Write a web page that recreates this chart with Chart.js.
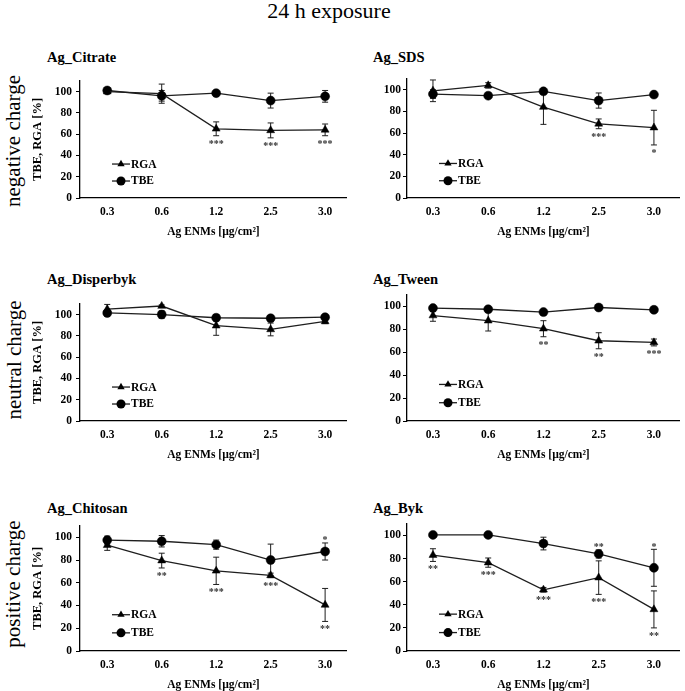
<!DOCTYPE html>
<html>
<head>
<meta charset="utf-8">
<script src="https://cdn.jsdelivr.net/npm/chart.js@4.4.1/dist/chart.umd.min.js"></script>
<style>
  html, body { margin: 0; padding: 0; background: #fff; }
  body { width: 685px; height: 691px; position: relative; overflow: hidden; font-family: "Liberation Serif", "Times New Roman", serif; }
  .abs { position: absolute; }
  .main-title { left: 0; width: 658px; top: 0; text-align: center; font-size: 22px; line-height: 22px; color: #000; }
  .row-label { font-size: 21px; line-height: 21px; white-space: nowrap; color: #000; transform: translate(-50%, -50%) rotate(-90deg); }
  .panel-title { font-size: 14.5px; line-height: 14.5px; font-weight: bold; white-space: nowrap; color: #000; }
</style>
</head>
<body>
<div class="abs main-title">24 h exposure</div>
<div class="abs row-label" style="left:13px; top:141px;">negative charge</div>
<div class="abs row-label" style="left:14px; top:360px;">neutral charge</div>
<div class="abs row-label" style="left:13px; top:584px;">positive charge</div>

<script>
// ---------------- DATA ----------------
const concentrations = ['0.3', '0.6', '1.2', '2.5', '3.0'];
const yTickValues = [0, 20, 40, 60, 80, 100];
const seriesNames = ['RGA', 'TBE'];

// Ag_Citrate
const citrateRGA      = [100, 98, 65, 63.5, 64];
const citrateRGAErr   = [1, 9, 6.5, 7, 5.5];
const citrateTBE      = [101, 96, 98.5, 91.5, 95.5];
const citrateTBEErr   = [1, 5, 1, 7, 5.5];
const citrateRGAStars = ['', '', '***', '***', '***'];
const citrateTBEStars = ['', '', '', '', ''];

// Ag_SDS
const sdsRGA      = [99, 104, 84, 68.5, 65];
const sdsRGAErr   = [10, 2.5, 16, 4.5, 16];
const sdsTBE      = [96, 94.5, 98.5, 90, 95.5];
const sdsTBEErr   = [4, 1, 1, 7, 1.5];
const sdsRGAStars = ['', '', '', '***', '*'];
const sdsTBEStars = ['', '', '', '', ''];

// Ag_Disperbyk
const disperbykRGA      = [105, 108, 89.5, 86, 93.5];
const disperbykRGAErr   = [4.5, 1, 9, 6, 2];
const disperbykTBE      = [101.5, 100, 97, 96.5, 97.5];
const disperbykTBEErr   = [1.5, 3.5, 3, 2.5, 2];
const disperbykRGAStars = ['', '', '', '', ''];
const disperbykTBEStars = ['', '', '', '', ''];

// Ag_Tween
const tweenRGA      = [92, 87.5, 80.5, 70, 68.5];
const tweenRGAErr   = [5, 9, 7, 7, 3];
const tweenTBE      = [98.5, 97.5, 95, 99, 97];
const tweenTBEErr   = [1, 1, 1, 1, 1];
const tweenRGAStars = ['', '', '**', '**', '***'];
const tweenTBEStars = ['', '', '', '', ''];

// Ag_Chitosan
const chitosanRGA      = [93, 79.5, 70.5, 66.5, 40.5];
const chitosanRGAErr   = [4.5, 6.5, 12, 2, 14.5];
const chitosanTBE      = [97.5, 96.5, 93.5, 80, 87.5];
const chitosanTBEErr   = [3.5, 5, 4, 14, 7.5];
const chitosanRGAStars = ['', '**', '***', '***', '**'];
const chitosanTBEStars = ['', '', '', '', '*'];

// Ag_Byk
const bykRGA      = [83, 76.5, 53, 63.5, 36];
const bykRGAErr   = [5.5, 4, 2, 14.5, 16];
const bykTBE      = [100.5, 100.5, 93, 84, 72];
const bykTBEErr   = [0.5, 0.5, 5.5, 3.5, 16];
const bykRGAStars = ['**', '***', '***', '***', '**'];
const bykTBEStars = ['', '', '', '**', '*'];

// ---------------- LAYOUT ----------------
const FONT = '"Liberation Serif", "Times New Roman", serif';
const INK = '#1e1e1e';

const panels = [
  { title: 'Ag_Citrate',   col: 0, areaTop: 78,    areaBottom: 197.5, titleTop: 49.5, rga: citrateRGA, rgaErr: citrateRGAErr, tbe: citrateTBE, tbeErr: citrateTBEErr, rgaStars: citrateRGAStars, tbeStars: citrateTBEStars },
  { title: 'Ag_SDS',       col: 1, areaTop: 78,    areaBottom: 197.5, titleTop: 50,   rga: sdsRGA, rgaErr: sdsRGAErr, tbe: sdsTBE, tbeErr: sdsTBEErr, rgaStars: sdsRGAStars, tbeStars: sdsTBEStars },
  { title: 'Ag_Disperbyk', col: 0, areaTop: 300.5, areaBottom: 420,   titleTop: 272,  rga: disperbykRGA, rgaErr: disperbykRGAErr, tbe: disperbykTBE, tbeErr: disperbykTBEErr, rgaStars: disperbykRGAStars, tbeStars: disperbykTBEStars },
  { title: 'Ag_Tween',     col: 1, areaTop: 293.5, areaBottom: 420.7, titleTop: 272,  rga: tweenRGA, rgaErr: tweenRGAErr, tbe: tweenTBE, tbeErr: tweenTBEErr, rgaStars: tweenRGAStars, tbeStars: tweenTBEStars },
  { title: 'Ag_Chitosan',  col: 0, areaTop: 523,   areaBottom: 650.5, titleTop: 501,  rga: chitosanRGA, rgaErr: chitosanRGAErr, tbe: chitosanTBE, tbeErr: chitosanTBEErr, rgaStars: chitosanRGAStars, tbeStars: chitosanTBEStars },
  { title: 'Ag_Byk',       col: 1, areaTop: 523,   areaBottom: 650.5, titleTop: 501,  rga: bykRGA, rgaErr: bykRGAErr, tbe: bykTBE, tbeErr: bykTBEErr, rgaStars: bykRGAStars, tbeStars: bykTBEStars }
];

const columns = [
  { canvasLeft: 27,  canvasWidth: 325, yAxisWidth: 53, tickPad: 4, padRight: 0, xMin: -0.5,  xMax: 4.4,  showYTitle: true,  titleLeft: 47 },
  { canvasLeft: 367, canvasWidth: 318, yAxisWidth: 40, tickPad: 2, padRight: 3, xMin: -0.47, xMax: 4.47, showYTitle: false, titleLeft: 373 }
];

// ---------------- PLUGINS ----------------
const errorBarPlugin = {
  id: 'errorBars',
  beforeDatasetsDraw(chart) {
    const ctx = chart.ctx;
    const xs = chart.scales.x, ys = chart.scales.y;
    ctx.save();
    ctx.strokeStyle = INK;
    ctx.lineWidth = 1;
    chart.data.datasets.forEach(ds => {
      (ds.errors || []).forEach((e, i) => {
        const v = ds.data[i].y;
        if (!e) return;
        const x = xs.getPixelForValue(ds.data[i].x);
        const yHi = ys.getPixelForValue(v + e);
        const yLo = ys.getPixelForValue(v - e);
        ctx.beginPath();
        ctx.moveTo(x, yHi); ctx.lineTo(x, yLo);
        ctx.moveTo(x - 3, yHi); ctx.lineTo(x + 3, yHi);
        ctx.moveTo(x - 3, yLo); ctx.lineTo(x + 3, yLo);
        ctx.stroke();
      });
    });
    ctx.restore();
  },
  afterDatasetsDraw(chart) {
    const ctx = chart.ctx;
    const xs = chart.scales.x, ys = chart.scales.y;
    ctx.save();
    ctx.fillStyle = '#333';
    ctx.font = 'bold 10px ' + FONT;
    ctx.textAlign = 'center';
    ctx.textBaseline = 'alphabetic';
    chart.data.datasets.forEach(ds => {
      (ds.stars || []).forEach((s, i) => {
        if (!s) return;
        const v = ds.data[i].y;
        const e = (ds.errors && ds.errors[i]) || 0;
        const x = xs.getPixelForValue(ds.data[i].x);
        if (ds.starPos === 'below') {
          ctx.fillText(s, x, ys.getPixelForValue(v - e) + 11);
        } else {
          ctx.fillText(s, x, ys.getPixelForValue(v + e) + 0.5);
        }
      });
    });
    ctx.restore();
  }
};

const innerLegendPlugin = {
  id: 'innerLegend',
  afterDraw(chart) {
    const ctx = chart.ctx;
    const a = chart.chartArea;
    const fracs = [0.71, 0.855];
    ctx.save();
    chart.data.datasets.forEach((ds, i) => {
      const y = a.top + fracs[i] * (a.bottom - a.top);
      const x0 = a.left + 32, x1 = a.left + 50, xm = a.left + 41;
      ctx.strokeStyle = INK;
      ctx.lineWidth = 1.3;
      ctx.beginPath(); ctx.moveTo(x0, y); ctx.lineTo(x1, y); ctx.stroke();
      ctx.fillStyle = '#000';
      ctx.beginPath();
      if (ds.pointStyle === 'triangle') {
        const r = 4.2;
        ctx.moveTo(xm, y - r);
        ctx.lineTo(xm + r * 0.866, y + r * 0.5);
        ctx.lineTo(xm - r * 0.866, y + r * 0.5);
        ctx.closePath();
      } else {
        ctx.arc(xm, y, 4.5, 0, Math.PI * 2);
      }
      ctx.fill();
      ctx.font = 'bold 11.5px ' + FONT;
      ctx.textAlign = 'left';
      ctx.textBaseline = 'middle';
      ctx.fillText(ds.label, x1 + 1, y + 0.5);
    });
    ctx.restore();
  }
};

// ---------------- BUILD ----------------
panels.forEach(p => {
  const c = columns[p.col];
  const canvasTop = p.areaTop - 8;
  const canvasHeight = Math.round(p.areaBottom + 42 - canvasTop);

  const t = document.createElement('div');
  t.className = 'abs panel-title';
  t.style.left = c.titleLeft + 'px';
  t.style.top = p.titleTop + 'px';
  t.textContent = p.title;
  document.body.appendChild(t);

  const wrap = document.createElement('div');
  wrap.className = 'abs';
  wrap.style.left = c.canvasLeft + 'px';
  wrap.style.top = canvasTop + 'px';
  wrap.style.width = c.canvasWidth + 'px';
  wrap.style.height = canvasHeight + 'px';
  const cv = document.createElement('canvas');
  cv.width = c.canvasWidth;
  cv.height = canvasHeight;
  cv.style.width = c.canvasWidth + 'px';
  cv.style.height = canvasHeight + 'px';
  wrap.appendChild(cv);
  document.body.appendChild(wrap);

  const mk = (vals) => vals.map((v, i) => ({ x: i, y: v }));

  new Chart(cv, {
    type: 'line',
    data: {
      datasets: [
        { label: seriesNames[0], data: mk(p.rga), errors: p.rgaErr, stars: p.rgaStars, starPos: 'below',
          pointStyle: 'triangle', pointRadius: 4.6, pointBackgroundColor: '#000', pointBorderColor: '#000', pointBorderWidth: 0.5,
          borderColor: INK, borderWidth: 1.3, fill: false, tension: 0 },
        { label: seriesNames[1], data: mk(p.tbe), errors: p.tbeErr, stars: p.tbeStars, starPos: 'above',
          pointStyle: 'circle', pointRadius: 4.5, pointBackgroundColor: '#000', pointBorderColor: '#000', pointBorderWidth: 0.5,
          borderColor: INK, borderWidth: 1.3, fill: false, tension: 0 }
      ]
    },
    options: {
      responsive: false,
      animation: false,
      devicePixelRatio: 1,
      clip: false,
      layout: { padding: { top: 8, right: c.padRight, bottom: 0, left: 0 } },
      plugins: { legend: { display: false }, tooltip: { enabled: false }, title: { display: false } },
      scales: {
        x: {
          type: 'linear',
          min: c.xMin, max: c.xMax,
          grid: { display: false, drawTicks: false },
          border: { color: '#000', width: 1.3 },
          ticks: {
            color: '#000', padding: 7,
            font: { family: FONT, size: 11.5, weight: 'bold' },
            callback: (v) => concentrations[v] !== undefined ? concentrations[v] : ''
          },
          afterBuildTicks: (s) => { s.ticks = concentrations.map((_, i) => ({ value: i })); },
          afterFit: (s) => { s.height = 42; },
          title: { display: true, text: 'Ag ENMs [µg/cm²]', color: '#000',
                   font: { family: FONT, size: 11.5, weight: 'bold' }, padding: { top: 0, bottom: 1 } }
        },
        y: {
          min: 0, max: 110,
          grid: { drawOnChartArea: false, drawTicks: true, tickLength: 4, color: '#000' },
          border: { color: '#000', width: 1.3 },
          ticks: { color: '#000', padding: c.tickPad, font: { family: FONT, size: 11.5, weight: 'bold' } },
          afterBuildTicks: (s) => { s.ticks = yTickValues.map(v => ({ value: v })); },
          afterFit: (s) => { s.width = c.yAxisWidth; },
          title: { display: c.showYTitle, text: 'TBE, RGA [%]', color: '#000',
                   font: { family: FONT, size: 12.5, weight: 'bold' }, padding: { top: 3, bottom: 4 } }
        }
      }
    },
    plugins: [errorBarPlugin, innerLegendPlugin]
  });
});
</script>
</body>
</html>
